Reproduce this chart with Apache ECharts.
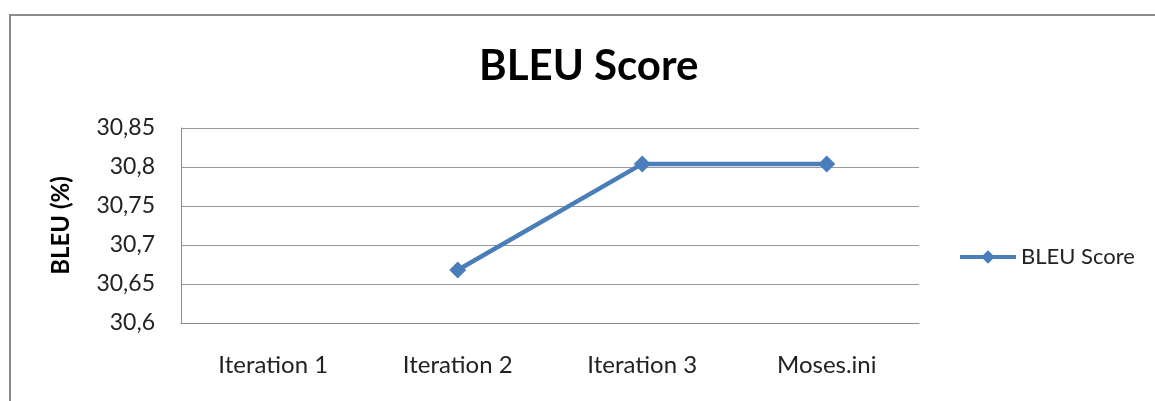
<!DOCTYPE html>
<html>
<head>
<meta charset="utf-8">
<script src="https://cdn.jsdelivr.net/npm/echarts@6/dist/echarts.min.js"></script>
<style>
  html, body { margin: 0; padding: 0; background: #fff; }
  #container { width: 1155px; height: 401px; }
</style>
</head>
<body>
<div id="container"></div>
<script>
var categories = ['Iteration 1', 'Iteration 2', 'Iteration 3', 'Moses.ini'];
var bleu = [null, 30.668, 30.804, 30.804];
var seriesName = 'BLEU Score';

var myChart = echarts.init(document.getElementById('container'));
var font = 'Lato, "Open Sans", sans-serif';

var option = {
    animation: false,
    backgroundColor: '#fff',
    textStyle: { fontFamily: font },
    title: {
        text: 'BLEU Score',
        left: 474,
        top: 40,
        textStyle: { fontFamily: font, fontSize: 42, fontWeight: 'bold', color: '#000' }
    },
    graphic: [{
        type: 'rect',
        shape: { x: 10, y: 15, width: 1300, height: 600 },
        style: { fill: 'none', stroke: '#8c8c8c', lineWidth: 2 },
        silent: true
    }],
    legend: {
        data: [seriesName],
        left: 953,
        top: 241,
        itemWidth: 56,
        itemHeight: 17,
        itemGap: 6,
        lineStyle: { width: 4, color: '#4a7ebb' },
        textStyle: { fontFamily: font, fontSize: 22, color: '#222' }
    },
    grid: { left: 181, top: 128, right: 236, bottom: 78 },
    xAxis: {
        type: 'category',
        data: categories,
        boundaryGap: true,
        axisLine: { lineStyle: { color: '#8c8c8c', width: 1 } },
        axisTick: { show: false },
        axisLabel: { fontFamily: font, fontSize: 24, color: '#222', margin: 30 }
    },
    yAxis: {
        type: 'value',
        min: 30.6,
        max: 30.85,
        interval: 0.05,
        name: 'BLEU (%)',
        nameLocation: 'middle',
        nameRotate: 90,
        nameGap: 108,
        nameMoveOverlap: false,
        nameTextStyle: { fontFamily: font, fontSize: 24, fontWeight: 'bold', color: '#000' },
        axisLine: { show: true, lineStyle: { color: '#8c8c8c', width: 1 } },
        axisTick: { show: false },
        splitLine: { lineStyle: { color: '#9a9a9a', width: 1 } },
        axisLabel: {
            fontFamily: font, fontSize: 23, color: '#222', margin: 26,
            formatter: function (v) {
                return String(+v.toFixed(2)).replace('.', ',');
            }
        }
    },
    series: [{
        name: seriesName,
        type: 'line',
        data: bleu,
        connectNulls: false,
        symbol: 'diamond',
        symbolSize: 17,
        lineStyle: { color: '#4a7ebb', width: 4.5 },
        itemStyle: { color: '#4a7ebb' }
    }]
};
myChart.setOption(option);
</script>
</body>
</html>
